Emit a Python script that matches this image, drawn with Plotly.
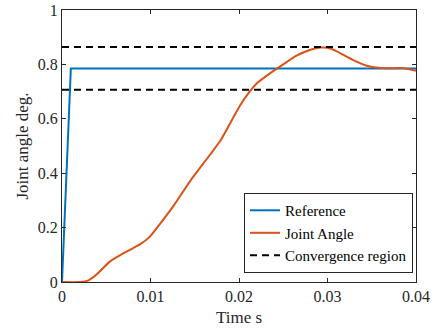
import plotly.graph_objects as go

# Data
ref_t = [0, 0.001, 0.04]
ref_y = [0, 0.785, 0.785]

joint_t = [0, 0.002, 0.003, 0.004, 0.0054, 0.0073, 0.0088, 0.0099, 0.0111, 0.0126,
           0.0145, 0.0167, 0.0179, 0.0201, 0.0212, 0.0220, 0.0235, 0.0250, 0.0265,
           0.0280, 0.0292, 0.0300, 0.0310, 0.0329, 0.0348, 0.0363, 0.0386, 0.0400]
joint_y = [0, 0, 0.006, 0.03, 0.075, 0.112, 0.138, 0.166, 0.215, 0.28,
           0.372, 0.467, 0.52, 0.648, 0.700, 0.730, 0.767, 0.800, 0.832,
           0.853, 0.862, 0.861, 0.849, 0.816, 0.792, 0.786, 0.786, 0.777]

conv_t = [0, 0.04]
conv_upper = [0.864, 0.864]
conv_lower = [0.707, 0.707]

x_ticks = [0, 0.01, 0.02, 0.03, 0.04]
x_tick_labels = ["0", "0.01", "0.02", "0.03", "0.04"]
y_ticks = [0, 0.2, 0.4, 0.6, 0.8, 1]
y_tick_labels = ["0", "0.2", "0.4", "0.6", "0.8", "1"]

blue = "#0072BD"
orange = "#D95319"
serif = "Liberation Serif, Times New Roman, serif"

fig = go.Figure()
fig.add_trace(go.Scatter(x=ref_t, y=ref_y, mode="lines", name="Reference",
                         line=dict(color=blue, width=2)))
fig.add_trace(go.Scatter(x=joint_t, y=joint_y, mode="lines", name="Joint Angle",
                         line=dict(color=orange, width=2, shape="spline", smoothing=0.6)))
fig.add_trace(go.Scatter(x=conv_t, y=conv_upper, mode="lines", name="Convergence region",
                         line=dict(color="black", width=2, dash="7px,5px"),
                         legendgroup="conv"))
fig.add_trace(go.Scatter(x=conv_t, y=conv_lower, mode="lines", name="Convergence region",
                         line=dict(color="black", width=2, dash="7px,5px"),
                         legendgroup="conv", showlegend=False))

axis_common = dict(showline=True, mirror="ticks", linecolor="#262626", linewidth=1,
                   ticks="inside", ticklen=4, tickcolor="#262626", showgrid=False,
                   zeroline=False, automargin=False,
                   tickfont=dict(family=serif, size=16, color="#262626"),
                   title_font=dict(family=serif, size=17, color="#262626"))

fig.update_xaxes(range=[0, 0.04], tickvals=x_ticks, ticktext=x_tick_labels,
                 title_text="Time s", title_standoff=6, **axis_common)
fig.update_yaxes(range=[0, 1], tickvals=y_ticks, ticktext=y_tick_labels,
                 title_text="Joint angle deg.", title_standoff=4, **axis_common)

fig.update_layout(
    width=433, height=332,
    margin=dict(l=62, r=17, t=10, b=50),
    plot_bgcolor="white", paper_bgcolor="white",
    font=dict(family=serif, color="#262626"),
    legend=dict(x=0.9915, y=0.18, xanchor="right", yanchor="middle",
                bgcolor="white", bordercolor="#262626", borderwidth=1,
                font=dict(family=serif, size=15, color="black"),
                tracegroupgap=0, itemwidth=30),
    showlegend=True,
)

fig.write_html("out.html", config={"displayModeBar": False},
               post_script="document.body.style.margin='0';document.body.style.overflow='hidden';")
